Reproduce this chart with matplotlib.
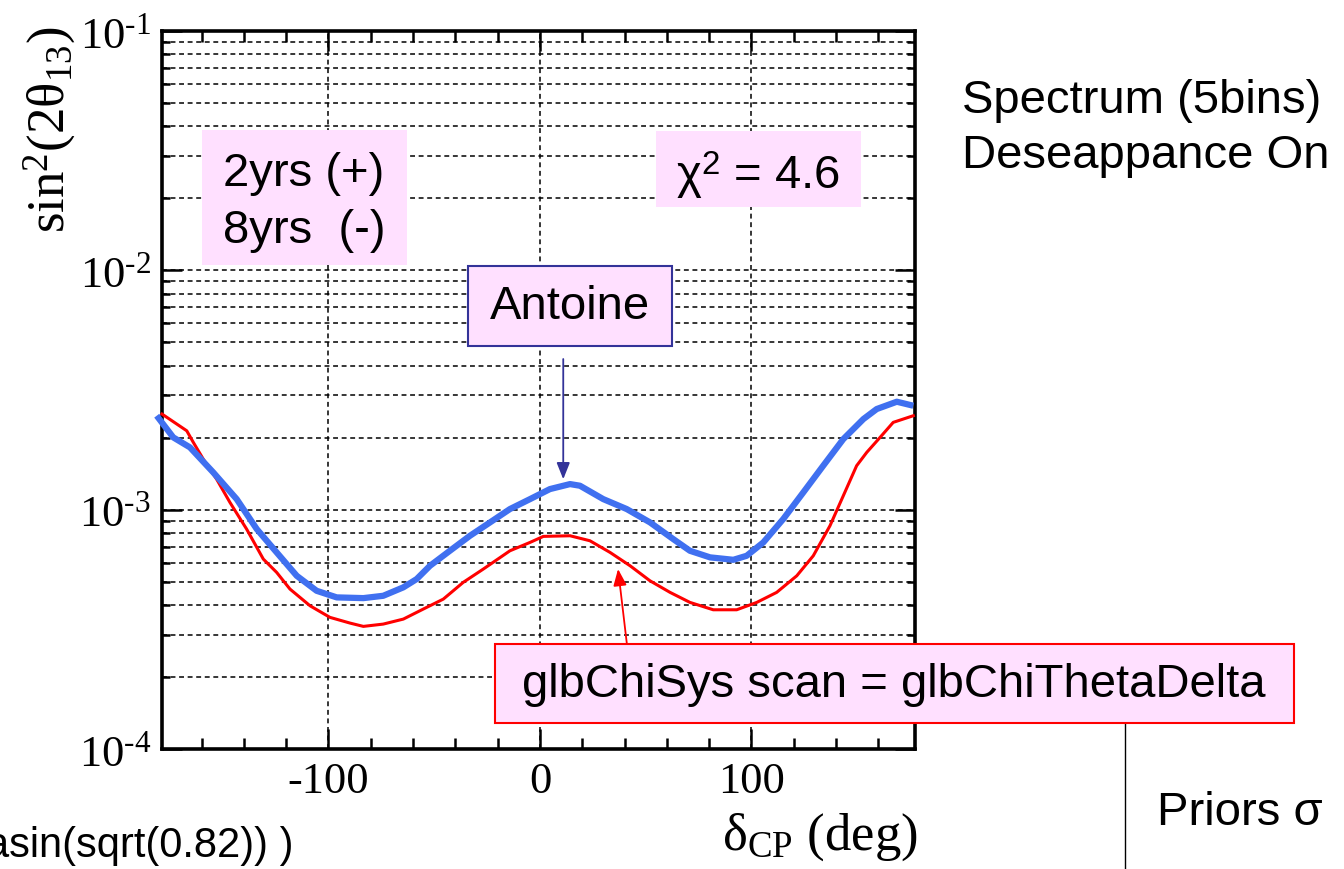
import numpy as np
import matplotlib
matplotlib.use("Agg")
import matplotlib.pyplot as plt
from matplotlib.patches import Rectangle
from matplotlib.lines import Line2D
from matplotlib.ticker import MultipleLocator, FixedLocator, LogLocator, FuncFormatter, NullFormatter

plt.rcParams['font.family'] = ['Liberation Sans', 'DejaVu Sans']
plt.rcParams['mathtext.fontset'] = 'custom'
plt.rcParams['mathtext.rm'] = 'Liberation Serif'
plt.rcParams['mathtext.it'] = 'Liberation Serif:italic'
plt.rcParams['mathtext.sf'] = 'Liberation Sans'

# data
# blue: "Antoine" curve
delta_blue = [-181.2, -173.4, -165.5, -154.5, -143.4, -133.9, -124.5, -115.0, -105.6, -96.1,
              -83.5, -74.1, -64.6, -58.3, -52.0, -42.6, -33.1, -23.6, -14.2, -4.7,
              4.7, 14.2, 18.9, 29.9, 41.0, 52.0, 63.0, 70.9, 80.4, 91.4,
              97.7, 105.6, 115.0, 124.5, 133.9, 143.4, 152.9, 159.2, 168.7, 176.5]
s2t_blue = [2.469e-3, 2.005e-3, 1.821e-3, 1.432e-3, 1.107e-3, 8.297e-4, 6.63e-4, 5.293e-4,
            4.582e-4, 4.30e-4, 4.27e-4, 4.367e-4, 4.736e-4, 5.129e-4, 5.829e-4, 6.733e-4,
            7.78e-4, 8.849e-4, 1.006e-3, 1.107e-3, 1.219e-3, 1.279e-3, 1.259e-3, 1.107e-3,
            1.006e-3, 8.849e-4, 7.535e-4, 6.733e-4, 6.32e-4, 6.173e-4, 6.416e-4, 7.298e-4,
            9.135e-4, 1.181e-3, 1.526e-3, 1.972e-3, 2.391e-3, 2.633e-3, 2.825e-3, 2.718e-3]
# red: glbChiSys scan curve
delta_red = [-178.7, -174.0, -167.0, -163.9, -159.2, -152.9, -146.6, -138.7, -130.8, -124.5,
             -118.2, -108.7, -99.3, -89.8, -83.5, -74.1, -64.6, -55.2, -45.7, -36.3,
             -26.8, -14.2, -4.7, 1.6, 14.2, 23.6, 33.1, 42.6, 52.0, 61.5,
             70.9, 81.9, 93.0, 102.5, 111.9, 121.4, 129.2, 137.1, 143.4, 149.7,
             154.5, 160.8, 167.0, 176.5]
s2t_red = [2.509e-3, 2.352e-3, 2.136e-3, 1.911e-3, 1.627e-3, 1.342e-3, 1.073e-3, 8.297e-4,
           6.216e-4, 5.47e-4, 4.658e-4, 3.966e-4, 3.548e-4, 3.358e-4, 3.253e-4, 3.326e-4,
           3.49e-4, 3.842e-4, 4.23e-4, 4.968e-4, 5.647e-4, 6.733e-4, 7.298e-4, 7.733e-4,
           7.78e-4, 7.415e-4, 6.63e-4, 5.829e-4, 5.045e-4, 4.512e-4, 4.098e-4, 3.817e-4,
           3.817e-4, 4.098e-4, 4.512e-4, 5.293e-4, 6.416e-4, 8.565e-4, 1.143e-3, 1.526e-3,
           1.736e-3, 2.005e-3, 2.316e-3, 2.469e-3]

x_major = [-100, 0, 100]

W, H = 1344, 870
fig = plt.figure(figsize=(W / 100, H / 100), dpi=100)


def px(x, y):
    # pixel position (from top-left) to figure fraction
    return x / W, 1 - y / H


ax = fig.add_axes([162 / W, 1 - 750 / H, 753 / W, 718 / H])
ax.set_yscale('log')
ax.set_xlim(-178.7, 177.3)
ax.set_ylim(1e-4, 1e-1)

ax.plot(delta_red, s2t_red, color='#ff0000', lw=2.2, zorder=3, clip_on=False)
ax.plot(delta_blue, s2t_blue, color='#4070f0', lw=4.5, zorder=4, clip_on=False,
        solid_capstyle='butt')

# ticks and grid
ax.xaxis.set_major_locator(FixedLocator(x_major))
ax.xaxis.set_minor_locator(MultipleLocator(20))
ax.yaxis.set_minor_locator(LogLocator(base=10, subs=np.arange(2, 10)))
ax.yaxis.set_minor_formatter(NullFormatter())
ax.yaxis.set_major_formatter(FuncFormatter(
    lambda v, _: r'$\mathrm{10^{\text{-}%d}}$' % round(-np.log10(v))))
ax.xaxis.set_major_formatter(FuncFormatter(lambda v, _: '%d' % v))

grid_style = dict(color='black', lw=1.1, linestyle=(0, (3.2, 2.4)))
ax.grid(True, which='major', axis='both', **grid_style)
ax.grid(True, which='minor', axis='y', **grid_style)

ax.tick_params(which='both', direction='in', top=True, right=True, width=1.8, color='black')
ax.tick_params(which='major', length=14.5)
ax.tick_params(axis='x', which='minor', length=8)
ax.tick_params(axis='y', which='minor', length=6)
ax.tick_params(axis='x', labelsize=32, pad=9, labelfontfamily='Liberation Serif')
ax.tick_params(axis='y', labelsize=32, pad=8)
for sp in ax.spines.values():
    sp.set_linewidth(2.6)

# axis labels
fig.text(*px(50, 130), r'$\mathrm{sin^2(2\theta_{13})}$', rotation=90, ha='center', va='center',
         fontsize=38)
fig.text(*px(918, 850), r'$\mathrm{\delta_{CP}}$ (deg)', ha='right', va='baseline',
         fontsize=38, fontfamily='Liberation Serif')

pink = '#ffe0ff'


def box(x0, y0, x1, y1, ec='none', lw=0):
    r = Rectangle(px(x0, y1), (x1 - x0) / W, (y1 - y0) / H, transform=fig.transFigure,
                  fc=pink, ec=ec, lw=lw, zorder=5)
    fig.patches.append(r)


box(202, 131, 407, 266)
fig.text(*px(223, 186), '2yrs (+)', ha='left', va='baseline', fontsize=34, zorder=6)
fig.text(*px(223, 243), '8yrs  (-)', ha='left', va='baseline', fontsize=34, zorder=6)

box(656, 132, 861, 208)
fig.text(*px(758, 189), '\u03c7$^{\\mathsf{2}}$ = 4.6', ha='center', va='baseline', fontsize=34,
         zorder=6)

box(468, 267, 672, 347, ec='#333399', lw=1.5)
fig.text(*px(570, 307), 'Antoine', ha='center', va='center', fontsize=34, zorder=6)

box(495, 645, 1294, 724, ec='#ff0000', lw=1.5)
fig.text(*px(894, 685), 'glbChiSys scan = glbChiThetaDelta', ha='center', va='center',
         fontsize=34, zorder=6)

# arrows
ax.annotate('', xy=(11, 1.34e-3), xytext=(11, 4.26e-3),
            arrowprops=dict(arrowstyle='-|>,head_length=1.0,head_width=0.4', color='#333399',
                            lw=1.3, shrinkA=0, shrinkB=0), zorder=6)
ax.annotate('', xy=(36.9, 5.65e-4), xytext=(41.1, 2.74e-4),
            arrowprops=dict(arrowstyle='-|>,head_length=1.0,head_width=0.4', color='#ff0000',
                            lw=1.3, shrinkA=0, shrinkB=0), zorder=6)

fig.lines.append(Line2D([1125 / W, 1125 / W], [1 - 724 / H, 0], transform=fig.transFigure,
                        color='black', lw=1.0))

# side notes
fig.text(*px(962, 113), 'Spectrum (5bins)', ha='left', va='baseline', fontsize=34)
fig.text(*px(962, 168), 'Deseappance On', ha='left', va='baseline', fontsize=34)
fig.text(*px(1157, 825), 'Priors \u03c3', ha='left', va='baseline', fontsize=34)
fig.text(*px(293, 857), 'asin(sqrt(0.82)) )', ha='right', va='baseline', fontsize=30)

fig.savefig('out.png', dpi=100)
